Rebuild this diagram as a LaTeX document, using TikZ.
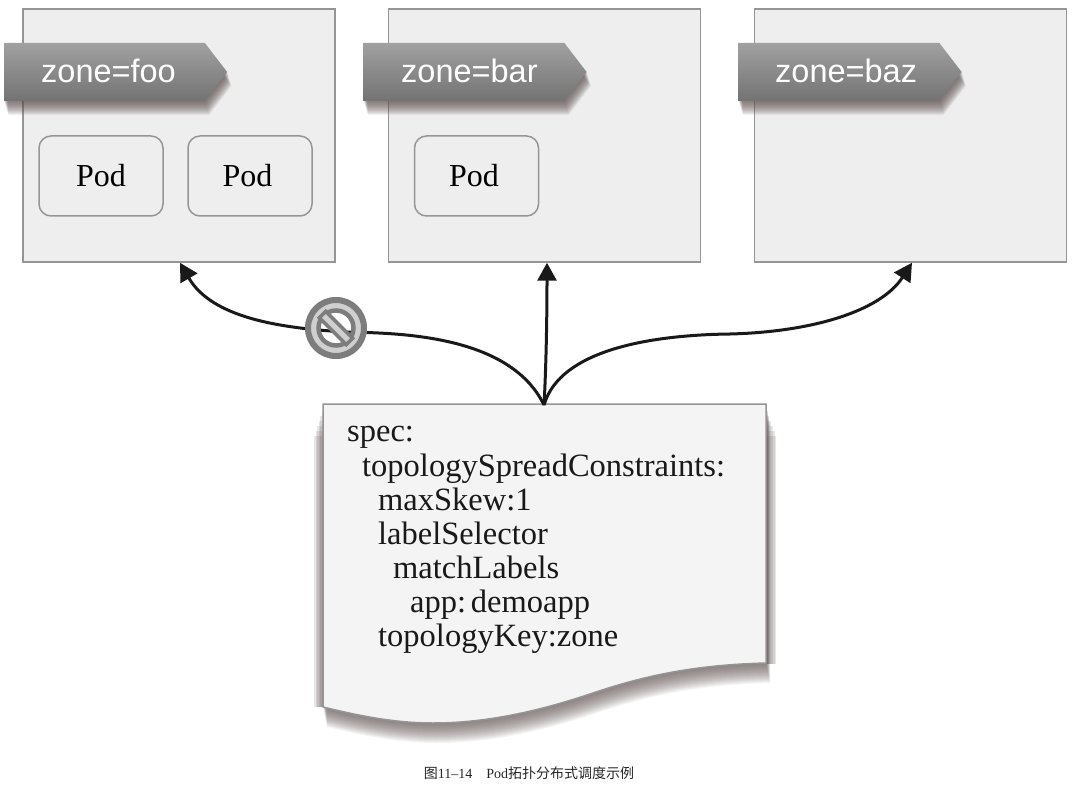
\documentclass[tikz,border=0pt]{standalone}
\usepackage{fontspec}
\setmainfont{Liberation Serif}
\newfontfamily\tagfont{Liberation Sans}
\newfontfamily\cjkfont{Noto Sans CJK SC}
\usetikzlibrary{arrows.meta,shapes.symbols}
\pgfdeclarelayer{background}
\pgfsetlayers{background,main}
\definecolor{boxline}{HTML}{959595}
\definecolor{boxfill}{HTML}{EEEEEE}
\definecolor{paperfill}{HTML}{F4F4F4}
\definecolor{shadowcol}{HTML}{5F5250}
\definecolor{signcol}{HTML}{7D7D7D}
\definecolor{signfill}{HTML}{CFCFCF}
\tikzstyle{zonebox}=[rectangle,draw=boxline,fill=boxfill,line width=1.5pt,minimum width=312pt,minimum height=253pt,inner sep=0pt]
\tikzstyle{pod}=[rectangle,draw=boxline,fill=boxfill,line width=1.5pt,rounded corners=12pt,minimum width=124pt,minimum height=80pt,font=\fontsize{32}{32}\selectfont]
\tikzstyle{zonetag}=[signal,signal to=east,signal pointer angle=105,minimum width=223pt,minimum height=58pt,inner sep=0pt]
\tikzstyle{tagshadow}=[zonetag,fill=shadowcol,fill opacity=0.09]
\tikzstyle{tagtext}=[anchor=base west,inner sep=0pt,text=white,font=\tagfont\fontsize{32.5}{33}\selectfont]
\tikzstyle{edge}=[draw,line width=3pt,black!90,-{Triangle[width=19pt,length=18pt]}]
\tikzstyle{yaml}=[anchor=base west,inner sep=0pt,font=\fontsize{32.5}{33}\selectfont,text=black!90]
\def\paperpath{(323,404) -- (766,404) -- (766,663) .. controls (690,665) and (640,677) .. (590,694)
	.. controls (530,714) and (480,723) .. (433,723) .. controls (395,723) and (360,716) .. (323,707) -- cycle}
\begin{document}
\begin{tikzpicture}[x=1pt,y=-1pt]
	\useasboundingbox (0,0) rectangle (1076,786);

	% the three zones
	\foreach \pos/\name in {{(179,135.5)/foo}, {(544.5,135.5)/bar}, {(910.5,135.5)/baz}}
	\node[zonebox] (box\name) at \pos {};

	% tags with their shadows
	\foreach \pos/\name/\tx in {{(104.5,72)/foo/41}, {(464,72)/bar/401}, {(839,72)/baz/775}}{
		\foreach \d in {1,...,14}
		\node[tagshadow,xshift=0.3*\d,yshift=-\d] at \pos {};
		\node[zonetag,top color=black!37,bottom color=black!55] (tag\name) at \pos {};
		\node[tagtext] (text\name) at (\tx,83) {zone=\name};
	}

	% pods
	\foreach \pos/\name/\off in {{(101,176)/a/0pt}, {(250,176)/b/-5pt}, {(476.5,176)/c/-5pt}}
	\node[pod] (pod\name) at \pos {\hspace*{\off}Pod};

	% the document
	\begin{pgfonlayer}{background}
		\foreach \d in {1,...,20}
		\fill[shadowcol,opacity=0.06,xshift=0.2*\d,yshift=-\d] \paperpath;
		\foreach \d in {1,...,6}{
			\fill[shadowcol,opacity=0.15] (323-1.5*\d,406+5*\d) rectangle (323,707);
			\fill[shadowcol,opacity=0.15] (766,406+5*\d) rectangle (766+1.7*\d,664);
		}
	\end{pgfonlayer}
	\draw[draw=boxline,fill=paperfill,line width=1.5pt] \paperpath;
	\coordinate (docport) at (544,405);

	\foreach \n/\x/\y/\txt in {a/347/441/spec:, b/362/476/topologySpreadConstraints:, c/378/510/maxSkew:1,
							d/378/544/labelSelector, e/393/578/matchLabels, f/410/612/app:\hspace{-6pt} demoapp, g/378/646/topologyKey:zone}
	\node[yaml] (line\n) at (\x,\y) {\txt};

	% connectors
	\path[edge] (docport) .. controls (510,335) and (400,333) .. (345,332) .. controls (280,328) and (212,318) .. ([xshift=1pt]boxfoo.south);
	\path[edge] (docport) .. controls (546,370) and (547,320) .. ([xshift=2.5pt]boxbar.south);
	\path[edge] (docport) .. controls (560,350) and (650,335) .. (730,334) .. controls (810,332) and (880,312) .. ([xshift=1.5pt]boxbaz.south);

	% forbidden sign
	\fill[signfill,even odd rule] (336,328) circle (31) circle (17);
	\draw[signcol,line width=6pt] (336,328) circle (28);
	\draw[signcol,line width=4.5pt] (336,328) circle (17.5);
	\node[rectangle,rotate=-45,draw=signcol,fill=signfill,line width=3.5pt,minimum width=38pt,minimum height=9pt,inner sep=0pt] (nosign) at (336,328) {};

	\node[anchor=base,inner sep=0pt,font=\fontsize{14}{14}\selectfont,text=black!85] (caption) at (529,778) {{\cjkfont 图}11–14\hspace{14pt}Pod{\cjkfont 拓扑分布式调度示例}};
\end{tikzpicture}
\end{document}
